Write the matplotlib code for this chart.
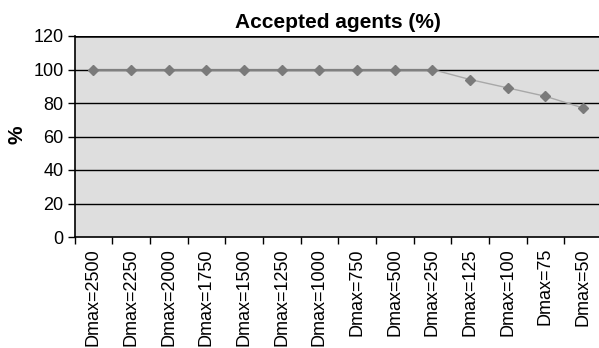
import matplotlib
matplotlib.use("Agg")
import matplotlib.pyplot as plt
import numpy as np

plt.rcParams['font.family'] = ['Liberation Sans', 'DejaVu Sans']

categories = ["Dmax=2500", "Dmax=2250", "Dmax=2000", "Dmax=1750", "Dmax=1500",
              "Dmax=1250", "Dmax=1000", "Dmax=750", "Dmax=500", "Dmax=250",
              "Dmax=125", "Dmax=100", "Dmax=75", "Dmax=50"]
accepted = [100, 100, 100, 100, 100, 100, 100, 100, 100, 100, 94, 89, 84, 77]
yticks = [0, 20, 40, 60, 80, 100, 120]

W, H = 599, 348
fig = plt.figure(figsize=(W / 100, H / 100), dpi=100)
left, right, top, bottom = 74.5, 602, 36, 237
ax = fig.add_axes([left / W, 1 - bottom / H, (right - left) / W, (bottom - top) / H])
ax.set_facecolor('#dedede')

x = np.arange(len(categories))
split = 9
ax.plot(x[:split + 1], accepted[:split + 1], color='#808080', lw=1.6, zorder=3)
ax.plot(x[split:], accepted[split:], color='#a8a8a8', lw=1.0, zorder=3)
ax.plot(x, accepted, ls='none', marker='D', ms=5, color='#7a7a7a', zorder=4)

ax.set_xlim(-0.5, len(categories) - 0.5)
ax.set_ylim(0, 120)
ax.set_yticks(yticks)
ax.set_yticklabels([str(v) for v in yticks], fontsize=13)
for v in yticks[1:]:
    ax.axhline(v, color='black', lw=1.0 if v < 120 else 1.8, zorder=2)

ax.set_xticks(x)
ax.set_xticklabels(categories, rotation=90, fontsize=13)
ax.tick_params(axis='x', length=0, pad=8)
ax.set_xticks(np.arange(len(categories) + 1) - 0.5, minor=True)
ax.tick_params(axis='x', which='minor', length=5, width=1, direction='out')
ax.tick_params(axis='y', length=5, width=1, direction='out', pad=3)

ax.spines['right'].set_visible(False)
ax.spines['top'].set_visible(False)
ax.spines['left'].set_linewidth(1.2)
ax.spines['bottom'].set_linewidth(1.2)

ax.set_title("Accepted agents (%)", fontsize=15, fontweight='bold', pad=5.5)
fig.text(17 / W, 1 - 135 / H, "%", rotation=90, ha='center', va='center',
         fontsize=15, fontweight='bold')

fig.savefig("out.png", dpi=100)
